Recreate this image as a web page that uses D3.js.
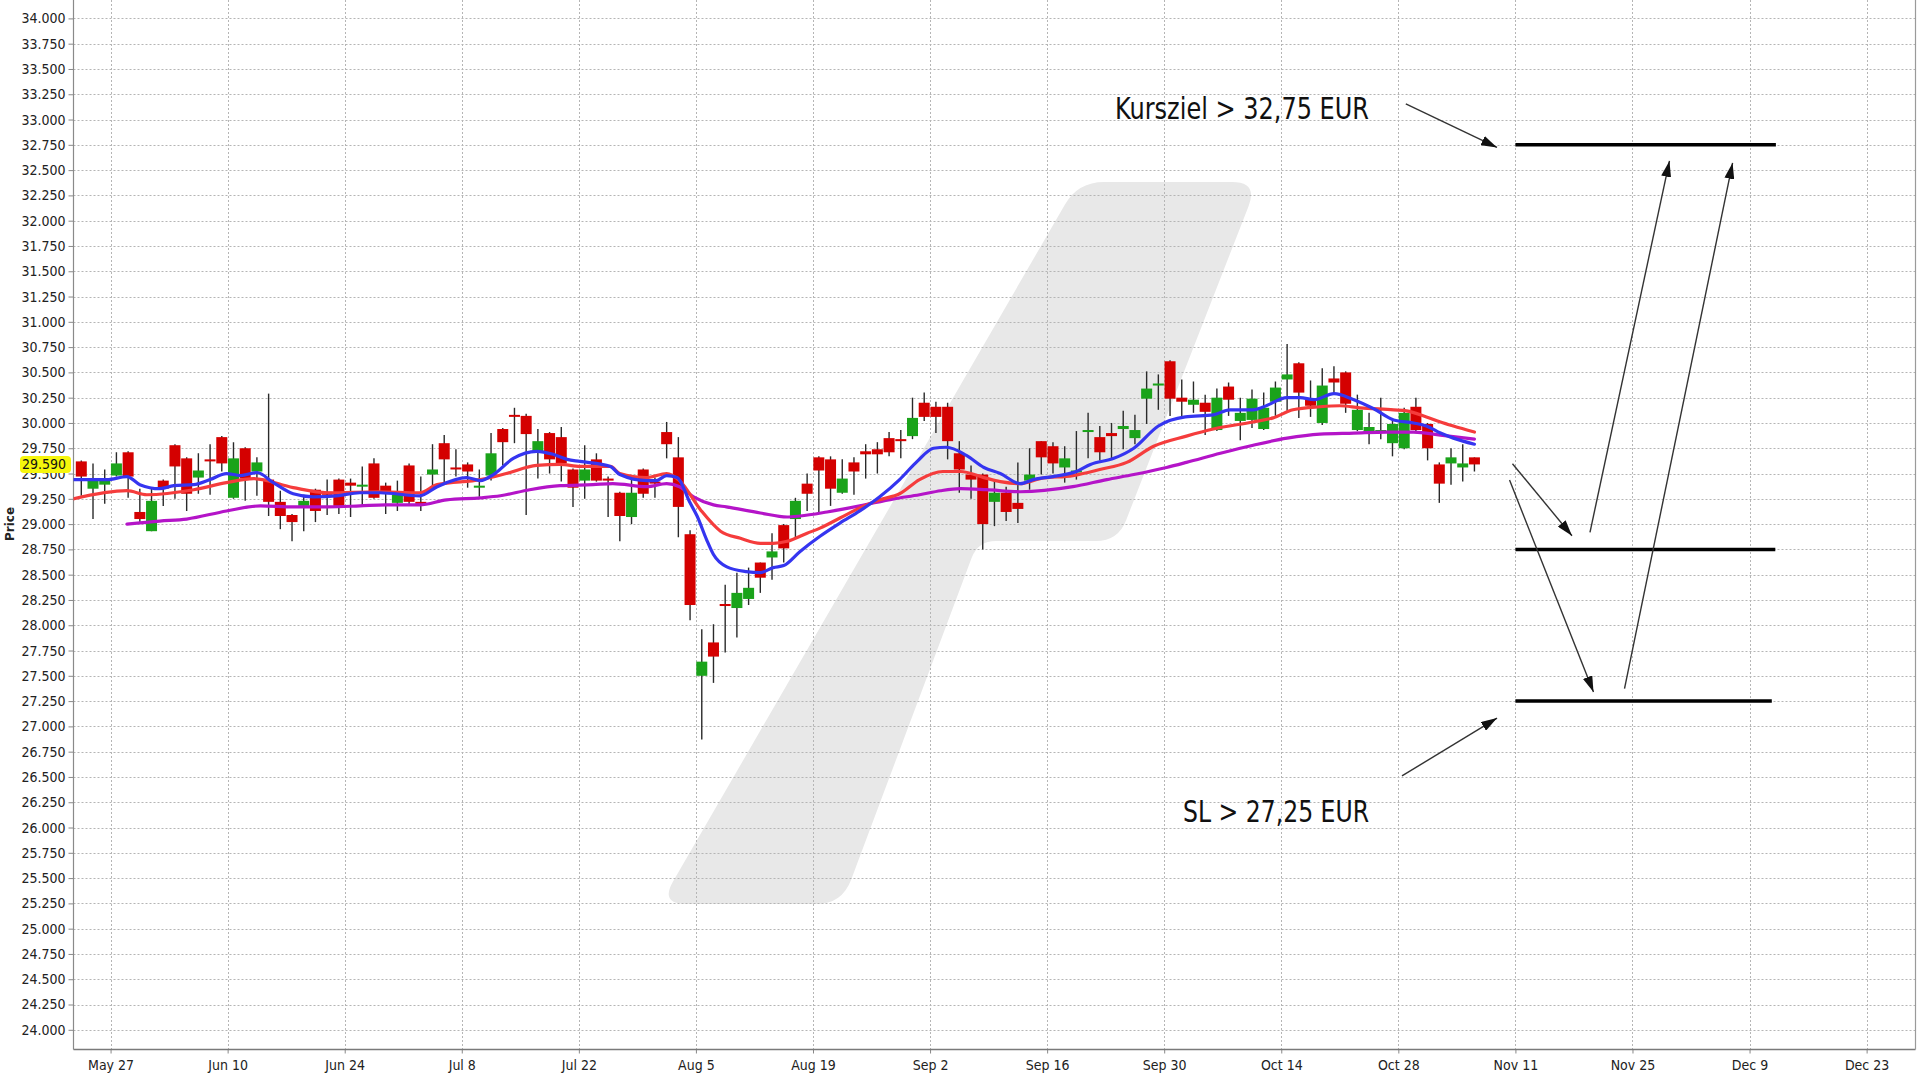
<!DOCTYPE html>
<html><head><meta charset="utf-8">
<script src="https://cdn.jsdelivr.net/npm/d3@7"></script>
<style>
html,body{margin:0;padding:0;background:#fff;}
svg{display:block;}
</style></head><body>
<svg id="chart" width="1920" height="1080"></svg>
<script>
// ---------------- DATA ----------------
const tickLabels = ["May 27","Jun 10","Jun 24","Jul 8","Jul 22","Aug 5","Aug 19","Sep 2","Sep 16","Sep 30","Oct 14","Oct 28","Nov 11","Nov 25","Dec 9","Dec 23"];
const tickIndex  = [2.5,12.5,22.5,32.5,42.5,52.5,62.5,72.5,82.5,92.5,102.5,112.5,122.5,132.5,142.5,152.5];
const priceTicks = [24,24.25,24.5,24.75,25,25.25,25.5,25.75,26,26.25,26.5,26.75,27,27.25,27.5,27.75,28,28.25,28.5,28.75,29,29.25,29.5,29.75,30,30.25,30.5,30.75,31,31.25,31.5,31.75,32,32.25,32.5,32.75,33,33.25,33.5,33.75,34];

const open = [29.62,29.35,29.39,29.48,29.71,29.12,28.93,29.43,29.78,29.65, 29.46,29.64,29.86,29.26,29.75,29.52,29.44,29.22,29.09,29.18,
 29.34,29.32,29.44,29.41,29.37,29.60,29.38,29.21,29.58,29.22, 29.49,29.80,29.56,29.59,29.36,29.48,29.94,30.08,30.07,29.72,
 29.90,29.86,29.54,29.43,29.64,29.45,29.31,29.07,29.54,29.42, 29.91,29.66,28.90,27.50,27.83,28.21,28.17,28.26,28.62,28.67,
 28.99,29.05,29.40,29.66,29.64,29.31,29.61,29.72,29.74,29.85, 29.84,29.87,30.20,30.16,30.16,29.70,29.49,29.49,29.22,29.31,
 29.21,29.43,29.82,29.77,29.56,29.52,29.92,29.86,29.90,29.94, 29.85,30.24,30.37,30.61,30.25,30.18,30.20,29.93,30.36,30.02,
 30.03,29.94,30.21,30.43,30.59,30.23,30.00,30.44,30.50,29.93, 29.91,29.92,29.80,29.75,30.16,29.99,29.59,29.60,29.56,29.66];
const close = [29.47,29.43,29.43,29.60,29.47,29.05,29.23,29.35,29.57,29.30, 29.53,29.62,29.60,29.65,29.45,29.61,29.22,29.08,29.02,29.23,
 29.13,29.29,29.18,29.38,29.39,29.26,29.32,29.29,29.22,29.20, 29.54,29.64,29.54,29.52,29.38,29.70,29.81,30.07,29.89,29.82,
 29.64,29.60,29.36,29.54,29.43,29.43,29.08,29.31,29.30,29.41, 29.79,29.17,28.20,27.64,27.69,28.19,28.32,28.37,28.47,28.73,
 28.76,29.23,29.30,29.53,29.35,29.45,29.52,29.69,29.69,29.71, 29.82,30.05,30.06,30.06,29.82,29.54,29.44,29.00,29.31,29.12,
 29.15,29.49,29.66,29.60,29.65,29.53,29.93,29.71,29.87,29.97, 29.93,30.34,30.39,30.24,30.21,30.23,30.11,30.25,30.23,30.10,
 30.24,30.15,30.35,30.48,30.30,30.17,30.37,30.40,30.19,30.13, 29.96,29.93,29.99,30.10,29.93,29.75,29.40,29.66,29.60,29.59];
const high = [29.63,29.60,29.54,29.71,29.72,29.35,29.35,29.44,29.79,29.66, 29.70,29.79,29.87,29.81,29.76,29.66,30.29,29.33,29.10,29.29,
 29.35,29.44,29.45,29.45,29.57,29.65,29.41,29.43,29.60,29.47, 29.79,29.88,29.74,29.61,29.54,29.90,29.95,30.15,30.09,29.94,
 29.91,29.96,29.55,29.78,29.70,29.47,29.32,29.44,29.55,29.46, 30.01,29.86,28.94,27.96,28.01,28.40,28.52,28.57,28.62,28.91,
 29.00,29.26,29.50,29.67,29.67,29.64,29.66,29.79,29.81,29.91, 29.93,30.25,30.30,30.21,30.20,29.82,29.58,29.50,29.44,29.37,
 29.61,29.75,29.82,29.81,29.77,29.92,30.10,29.97,30.00,30.12, 30.08,30.51,30.48,30.62,30.43,30.41,30.28,30.34,30.40,30.25,
 30.33,30.30,30.41,30.78,30.60,30.42,30.54,30.56,30.51,30.28, 30.10,30.25,30.04,30.15,30.25,30.00,29.61,29.75,29.79,29.66];
const low = [29.28,29.05,29.20,29.47,29.26,29.00,28.93,29.18,29.25,29.13, 29.30,29.29,29.52,29.25,29.23,29.28,29.08,28.95,28.83,28.93,
 29.02,29.09,29.10,29.07,29.18,29.25,29.10,29.13,29.18,29.13, 29.35,29.39,29.47,29.36,29.27,29.43,29.58,29.80,29.09,29.45,
 29.50,29.42,29.17,29.25,29.42,29.07,28.83,29.00,29.26,29.26, 29.65,28.87,28.05,26.87,27.43,27.73,27.88,28.20,28.32,28.45,
 28.62,28.86,29.13,29.11,29.18,29.30,29.29,29.45,29.50,29.67, 29.65,29.84,30.02,29.90,29.64,29.31,29.25,28.75,28.98,29.03,
 29.01,29.34,29.49,29.50,29.41,29.44,29.65,29.63,29.64,29.74, 29.79,29.99,30.13,30.07,30.06,30.10,29.88,29.92,30.07,29.83,
 29.95,29.93,30.07,30.12,30.05,30.06,29.98,30.28,30.10,29.92, 29.79,29.84,29.67,29.74,29.92,29.63,29.21,29.39,29.42,29.52];

// moving averages: [candle index, price]
const maFast = [[-0.7,29.44],[2.2,29.44],[3.9,29.47],[5.0,29.39],[6.7,29.35],[7.9,29.38],[9.6,29.39],[11.0,29.44],[12.4,29.50],[13.6,29.48],[15.0,29.51],[16.4,29.41],[18.1,29.30],[19.8,29.27],[21.8,29.28],[23.8,29.31],[25.5,29.31],[28.9,29.28],[30.4,29.37],[32.9,29.46],[34.1,29.43],[35.2,29.49],[36.9,29.65],[38.9,29.72],[40.3,29.69],[41.5,29.64],[42.6,29.62],[45.2,29.57],[46.0,29.49],[48.3,29.43],[49.1,29.43],[50.0,29.48],[50.9,29.46],[52.0,29.21],[52.6,29.08],[53.4,28.85],[54.0,28.70],[55.1,28.58],[56.8,28.53],[58.0,28.52],[59.1,28.57],[60.0,28.59],[61.4,28.73],[63.1,28.88],[64.8,29.01],[66.5,29.13],[68.2,29.27],[69.9,29.44],[71.4,29.62],[72.8,29.75],[73.9,29.76],[75.6,29.68],[77.1,29.56],[78.5,29.50],[80.2,29.40],[81.3,29.44],[83.0,29.47],[85.0,29.52],[86.2,29.59],[88.2,29.65],[89.9,29.75],[92.0,29.97],[94.3,30.06],[96.7,30.08],[98.1,30.13],[100.1,30.13],[101.0,30.16],[103.0,30.25],[104.1,30.25],[105.3,30.23],[107.0,30.29],[108.7,30.23],[110.4,30.14],[112.1,30.03],[113.8,30.00],[114.9,29.97],[116.1,29.90],[117.2,29.85],[119.0,29.79]];
const maMid = [[-0.7,29.25],[3.9,29.33],[5.6,29.29],[9.6,29.34],[12.4,29.41],[14.7,29.45],[18.1,29.36],[21.0,29.31],[25.5,29.32],[28.9,29.31],[30.4,29.39],[34.1,29.44],[36.3,29.50],[38.9,29.58],[40.9,29.59],[42.6,29.57],[45.2,29.57],[46.0,29.50],[48.3,29.46],[50.0,29.50],[51.1,29.43],[52.9,29.14],[54.6,28.93],[56.3,28.86],[58.0,28.81],[59.1,28.81],[60.3,28.83],[62.0,28.91],[63.1,28.96],[64.8,29.06],[66.5,29.16],[68.2,29.24],[69.9,29.30],[71.6,29.44],[73.6,29.52],[75.1,29.52],[77.1,29.46],[78.5,29.42],[80.2,29.40],[81.9,29.45],[84.7,29.48],[87.0,29.54],[89.3,29.61],[91.6,29.77],[94.4,29.87],[96.7,29.94],[100.1,30.01],[101.8,30.05],[103.5,30.13],[105.8,30.16],[107.5,30.17],[109.2,30.15],[112.1,30.13],[113.2,30.12],[114.9,30.06],[116.1,30.01],[117.2,29.97],[119.0,29.91]];
const maSlow = [[3.9,29.00],[6.7,29.03],[9.0,29.05],[12.4,29.13],[15.3,29.18],[18.1,29.17],[21.0,29.17],[23.8,29.18],[26.0,29.19],[28.9,29.19],[31.2,29.24],[34.1,29.26],[35.8,29.28],[38.3,29.34],[40.9,29.38],[43.7,29.39],[45.4,29.40],[48.3,29.37],[50.0,29.40],[51.1,29.37],[52.3,29.27],[54.0,29.19],[55.1,29.17],[58.0,29.11],[60.3,29.07],[61.4,29.08],[63.7,29.12],[66.5,29.18],[69.4,29.25],[71.6,29.29],[73.4,29.33],[75.1,29.35],[77.3,29.34],[80.2,29.32],[84.7,29.37],[87.6,29.44],[89.9,29.49],[92.7,29.56],[94.4,29.61],[97.3,29.70],[100.1,29.78],[103.0,29.85],[105.8,29.89],[108.7,29.90],[111.5,29.91],[113.8,29.91],[116.1,29.88],[119.0,29.84]];

const lastPrice = 29.59;
const levelPrices = [32.75, 28.75, 27.25];
const levelFrom = [122.5, 122.5, 122.5];
const levelTo   = [144.75, 144.7, 144.4];
// arrows: [fromIndex, fromPrice, toIndex, toPrice]
const arrows = [[113.14,33.156,120.93,32.724],[122.25,29.597,127.33,28.885],[128.87,28.919,135.66,32.591],
                [122.0,29.435,129.17,27.339],[131.82,27.374,141.05,32.571],[112.81,26.51,120.93,27.082]];
const noteTexts = ["Kursziel > 32,75 EUR", "SL > 27,25 EUR"];
const noteAnchor = [[110.0, 33.01], [110.0, 26.055]];

// ---------------- LAYOUT ----------------
const L = 73.5, R = 1915.5, T = 0, B = 1049.5;
const svg = d3.select("#chart");
svg.append("rect").attr("width",1920).attr("height",1080).attr("fill","#fff");

const step = 11.707;
const x = d3.scaleLinear().domain([0, 150]).range([81.3, 81.3 + 150*step]);
const y = d3.scaleLinear().domain([24, 34]).range([1029.8, 18.4]);

svg.append("clipPath").attr("id","plot").append("rect")
   .attr("x",L).attr("y",T).attr("width",R-L).attr("height",B-T);

// watermark (decorative)
function roundedPath(pts, rads){
  let d=""; const n=pts.length;
  for(let k=0;k<n;k++){
    const p0=pts[(k-1+n)%n], p1=pts[k], p2=pts[(k+1)%n], r=rads[k];
    const a=[p0[0]-p1[0],p0[1]-p1[1]], b=[p2[0]-p1[0],p2[1]-p1[1]];
    const la=Math.hypot(a[0],a[1]), lb=Math.hypot(b[0],b[1]);
    const s=[p1[0]+a[0]/la*r,p1[1]+a[1]/la*r], e=[p1[0]+b[0]/lb*r,p1[1]+b[1]/lb*r];
    d += (k===0?"M":"L")+s[0]+","+s[1]+"Q"+p1[0]+","+p1[1]+" "+e[0]+","+e[1];
  }
  return d+"Z";
}
svg.append("path")
  .attr("d", roundedPath([[1078,182],[1258,182],[1118,541],[978,541],[842,904],[660,904]],[26,26,22,18,26,26]))
  .attr("fill","#e8e8e8");

// grid
const grid = svg.append("g").attr("stroke","#b5b5b5").attr("stroke-width",1).attr("stroke-dasharray","2,2");
grid.selectAll("line.h").data(priceTicks).join("line")
  .attr("x1",L).attr("x2",R).attr("y1",d=>Math.round(y(d))+0.5).attr("y2",d=>Math.round(y(d))+0.5);
grid.selectAll("line.v").data(tickIndex).join("line")
  .attr("y1",T).attr("y2",B).attr("x1",d=>Math.round(x(d))+0.5).attr("x2",d=>Math.round(x(d))+0.5);

// axes
const fontFam = "'DejaVu Sans Condensed','DejaVu Sans',sans-serif";
const yAxis = svg.append("g").attr("transform",`translate(${L},0)`)
  .call(d3.axisLeft(y).tickValues(priceTicks).tickFormat(d3.format(".3f")).tickSize(5).tickPadding(3));
yAxis.select(".domain").remove();
yAxis.selectAll("line").attr("stroke","#888");
yAxis.selectAll("text").attr("font-family",fontFam).attr("font-stretch","condensed").attr("font-size",14).attr("fill","#222");

const xAxis = svg.append("g").attr("transform",`translate(0,${B})`)
  .call(d3.axisBottom(x).tickValues(tickIndex).tickFormat((d,k)=>tickLabels[k]).tickSize(4).tickPadding(7));
xAxis.select(".domain").remove();
xAxis.selectAll("line").attr("stroke","#888");
xAxis.selectAll("text").attr("font-family",fontFam).attr("font-stretch","condensed").attr("font-size",14).attr("fill","#222");

svg.append("line").attr("x1",L).attr("x2",L).attr("y1",T).attr("y2",B).attr("stroke","#8a8a8a").attr("stroke-width",1.2);
svg.append("line").attr("x1",L).attr("x2",R).attr("y1",B).attr("y2",B).attr("stroke","#7a7a7a").attr("stroke-width",1.6);
svg.append("line").attr("x1",R).attr("x2",R).attr("y1",T).attr("y2",B).attr("stroke","#9a9a9a").attr("stroke-width",1.2);

svg.append("text").attr("transform","translate(14,524) rotate(-90)").attr("text-anchor","middle")
  .attr("font-family","'DejaVu Sans',sans-serif").attr("font-weight","bold").attr("font-size",12).attr("fill","#222").text("Price");

// candles
const plot = svg.append("g").attr("clip-path","url(#plot)");
const idx = d3.range(open.length);
const up = i => close[i] >= open[i];
plot.append("g").selectAll("line").data(idx).join("line")
  .attr("x1",i=>x(i)).attr("x2",i=>x(i)).attr("y1",i=>y(high[i])).attr("y2",i=>y(low[i]))
  .attr("stroke","#2a2a2a").attr("stroke-width",1.4);
const bw = 11;
plot.append("g").selectAll("rect").data(idx).join("rect")
  .attr("x",i=>x(i)-bw/2).attr("width",bw)
  .attr("y",i=>y(Math.max(open[i],close[i])))
  .attr("height",i=>Math.max(2, Math.abs(y(open[i])-y(close[i]))))
  .attr("fill",i=>up(i)?"#1aa31a":"#d40000");

// moving averages
const line = d3.line().x(d=>x(d[0])).y(d=>y(d[1])).curve(d3.curveMonotoneX);
[[maSlow,"#b414c8"],[maMid,"#f53c3c"],[maFast,"#3535f0"]].forEach(([data,col])=>{
  plot.append("path").datum(data).attr("d",line).attr("fill","none").attr("stroke",col)
      .attr("stroke-width",3.2).attr("stroke-linejoin","round").attr("stroke-linecap","round");
});

// last price label
const lp = svg.append("g");
lp.append("rect").attr("x",20).attr("y",y(lastPrice)-8.5).attr("width",51).attr("height",17).attr("rx",4).attr("fill","#f6f60c");
lp.append("text").attr("x",66).attr("y",y(lastPrice)).attr("dy","0.35em").attr("text-anchor","end")
  .attr("font-family",fontFam).attr("font-stretch","condensed").attr("font-size",14).attr("fill","#111").text(d3.format(".3f")(lastPrice));

// annotations
const defs = svg.append("defs");
defs.append("marker").attr("id","ah").attr("markerUnits","userSpaceOnUse").attr("markerWidth",16).attr("markerHeight",10)
  .attr("refX",16).attr("refY",5).attr("orient","auto")
  .append("path").attr("d","M0,0 L16,5 L0,10 Z").attr("fill","#111");
const ann = svg.append("g");
ann.selectAll("line.lv").data(levelPrices).join("line")
  .attr("x1",(d,k)=>x(levelFrom[k])).attr("x2",(d,k)=>x(levelTo[k]))
  .attr("y1",d=>y(d)).attr("y2",d=>y(d)).attr("stroke","#000").attr("stroke-width",3.5);
ann.selectAll("line.ar").data(arrows).join("line")
  .attr("x1",d=>x(d[0])).attr("y1",d=>y(d[1])).attr("x2",d=>x(d[2])).attr("y2",d=>y(d[3]))
  .attr("stroke","#333").attr("stroke-width",1.4).attr("marker-end","url(#ah)");
const noteWidths = [254, 186];
ann.selectAll("text").data(noteTexts).join("text")
  .attr("x",(d,k)=>x(noteAnchor[k][0])-noteWidths[k]).attr("y",(d,k)=>y(noteAnchor[k][1]))
  .attr("font-family",fontFam).attr("font-stretch","condensed").attr("font-size",31).attr("fill","#111")
  .attr("textLength",(d,k)=>noteWidths[k]).attr("lengthAdjust","spacingAndGlyphs")
  .text(d=>d);
</script>
</body></html>
